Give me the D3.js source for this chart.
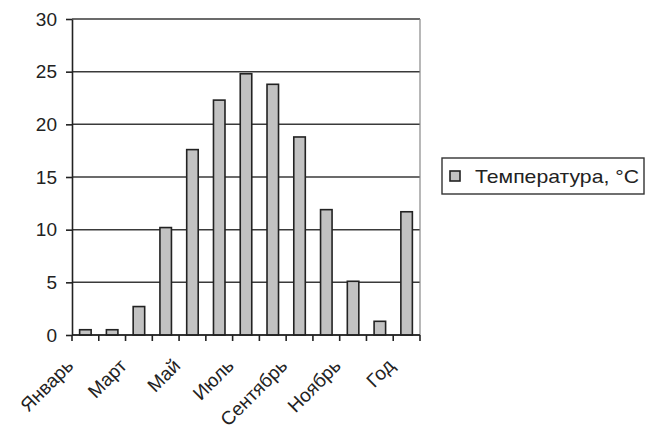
<!DOCTYPE html>
<html>
<head>
<meta charset="utf-8">
<script src="https://cdn.jsdelivr.net/npm/d3@7"></script>
<style>
  html, body { margin: 0; padding: 0; background: #fff; }
  svg { display: block; font-family: "Liberation Sans", Arial, sans-serif; }
</style>
</head>
<body>
<svg id="chart" width="645" height="436"></svg>
<script>
const categories = ["Январь", "Февраль", "Март", "Апрель", "Май", "Июнь", "Июль",
                    "Август", "Сентябрь", "Октябрь", "Ноябрь", "Декабрь", "Год"];
const temperature = [0.5, 0.5, 2.7, 10.2, 17.6, 22.3, 24.8, 23.8, 18.8, 11.9, 5.1, 1.3, 11.7];
const yTicks = [0, 5, 10, 15, 20, 25, 30];
const seriesName = "Температура, °C";

(function () {
const svg = d3.select("#chart");
const mLeft = 72, mRight = 420, mTop = 19, mBottom = 335;

const x = d3.scaleBand().domain(categories).range([mLeft, mRight])
  .paddingInner(0.57).paddingOuter(0.285);
const y = d3.scaleLinear().domain([0, 30]).range([mBottom, mTop]);

// gridlines
svg.append("g").selectAll("line").data(yTicks).join("line")
  .attr("x1", mLeft).attr("x2", mRight)
  .attr("y1", d => y(d)).attr("y2", d => y(d))
  .attr("stroke", "#3a3a3a").attr("stroke-width", 1.5);

// right plot border
svg.append("line").attr("x1", mRight).attr("x2", mRight)
  .attr("y1", y(30)).attr("y2", y(0))
  .attr("stroke", "#888").attr("stroke-width", 1.2);

// bars
svg.append("g").selectAll("rect").data(temperature).join("rect")
  .attr("x", (d, i) => x(categories[i]))
  .attr("width", x.bandwidth())
  .attr("y", d => y(d))
  .attr("height", d => y(0) - y(d))
  .attr("fill", "#c2c2c2").attr("stroke", "#222").attr("stroke-width", 1.6);

// y axis
const yAxis = d3.axisLeft(y).tickValues(yTicks).tickSize(6).tickPadding(9).tickSizeOuter(0);
const gy = svg.append("g").attr("transform", `translate(${mLeft},0)`).call(yAxis);
gy.select(".domain").attr("stroke", "#222").attr("stroke-width", 1.6);
gy.selectAll(".tick line").attr("stroke", "#222").attr("stroke-width", 1.6);
gy.selectAll(".tick text").attr("font-size", 19).attr("fill", "#222")
  .attr("font-family", "Liberation Sans, Arial, sans-serif");

// x axis line and ticks at band boundaries
const step = x.step();
const boundaries = categories.map(c => x(c) - (step - x.bandwidth()) / 2).concat([mRight]);
svg.append("line").attr("x1", mLeft).attr("x2", mRight)
  .attr("y1", mBottom).attr("y2", mBottom)
  .attr("stroke", "#222").attr("stroke-width", 1.6);
svg.append("g").selectAll("line").data(boundaries).join("line")
  .attr("x1", d => d).attr("x2", d => d)
  .attr("y1", mBottom).attr("y2", mBottom + 6)
  .attr("stroke", "#222").attr("stroke-width", 1.6);

// x labels (every other category)
svg.append("g").selectAll("text")
  .data(categories.filter((c, i) => i % 2 === 0)).join("text")
  .attr("transform", c => `translate(${x(c) + x.bandwidth() / 2 - 11},${mBottom + 32}) rotate(-45)`)
  .attr("text-anchor", "end")
  .attr("font-size", 19).attr("fill", "#222")
  .text(c => c);

// legend
const lg = svg.append("g");
lg.append("rect").attr("x", 442).attr("y", 158).attr("width", 202).attr("height", 36)
  .attr("fill", "#fff").attr("stroke", "#333").attr("stroke-width", 1.4);
lg.append("rect").attr("x", 450).attr("y", 171).attr("width", 10).attr("height", 10)
  .attr("fill", "#c2c2c2").attr("stroke", "#222").attr("stroke-width", 1.6);
lg.append("text").attr("x", 475).attr("y", 183)
  .attr("font-size", 19).attr("fill", "#222")
  .attr("textLength", 164).attr("lengthAdjust", "spacingAndGlyphs")
  .text(seriesName);
})();
</script>
</body>
</html>
